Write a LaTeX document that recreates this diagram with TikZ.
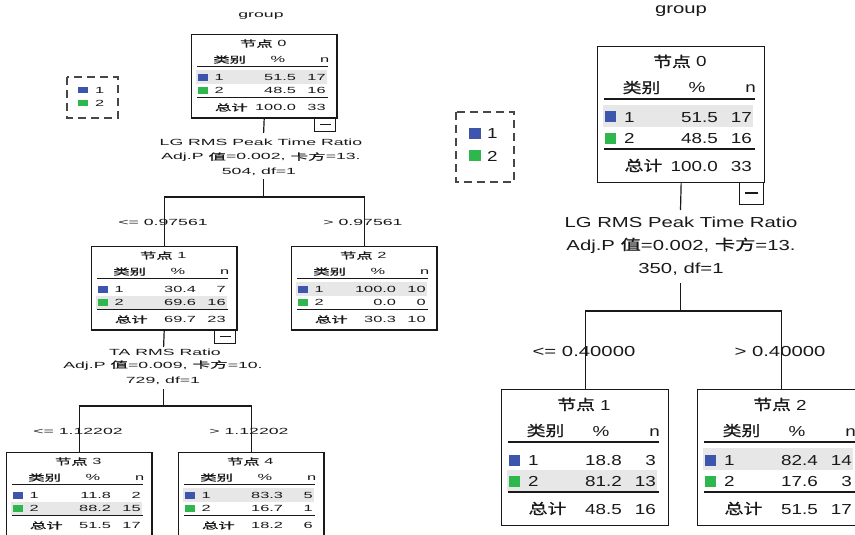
\documentclass[tikz,border=0pt]{standalone}
\usepackage{fontspec}
\setmainfont{Liberation Sans}
\newfontfamily\nf{Liberation Sans}[FakeStretch=1.3]
\newfontfamily\nfc{Noto Sans CJK SC}[FakeStretch=1.3,FakeBold=1]
\newfontfamily\lf{Liberation Sans}[FakeStretch=1.4]
\newfontfamily\lfc{Noto Sans CJK SC}[FakeStretch=1.4,FakeBold=1]
\definecolor{cone}{RGB}{61,85,172}
\definecolor{ctwo}{RGB}{45,183,77}
\definecolor{rowgray}{RGB}{231,231,231}
\definecolor{ink}{RGB}{25,25,25}
\newif\ifspssminus
\tikzset{
 lscale/.style={xscale=0.87,yscale=0.615,transform shape},
 shade row/.store in=\spssshade, shade row=1,
 with minus/.code={\spssminustrue},
 boxstyle/.style={draw=ink, line width=1.3pt, inner sep=0pt, minimum width=167pt, minimum height=136pt, anchor=north west},
 minusbox/.style={draw=ink, line width=1.1pt, inner sep=0pt, minimum width=24pt, minimum height=22pt, anchor=north east},
 nt/.style={font=\nf\fontsize{14.5}{17}\selectfont, text=ink, inner sep=0pt},
 lt/.style={font=\lf\fontsize{14.5}{17}\selectfont, text=ink, inner sep=0pt},
 rule/.style={draw=ink, line width=1.3pt},
 conn/.style={draw=ink, line width=1.2pt},
 legbox/.style={draw=ink!80, line width=1.4pt, dash pattern=on 8pt off 5pt},
}
% #1 name, #2 scope options, #3 title, #4 p1, #5 n1, #6 p2, #7 n2, #8 ptot, #9 ntot
\newcommand\spssnode[9]{%
 \spssminusfalse
 \begin{scope}[#2]
  \ifnum\spssshade=1
   \fill[rowgray] (6,59) rectangle (156,81);
  \else
   \fill[rowgray] (6,81) rectangle (156,102);
  \fi
  \node[boxstyle] (#1) at (0,0) {};
  \node[nt,anchor=base] (#1t) at (83,21) {{\nfc 节点} #3};
  \node[nt,anchor=base] (#1ha) at (44.5,47) {\nfc 类别};
  \node[nt,anchor=base] (#1hb) at (100,47) {\%};
  \node[nt,anchor=base east] (#1hc) at (159,47) {n};
  \draw[rule] (7,53) -- (158,53);
  \fill[cone] (8,65.5) rectangle (19,76.5);
  \node[nt,anchor=base west] (#1aa) at (27,76) {1};
  \node[nt,anchor=base east] (#1ab) at (121,76) {#4};
  \node[nt,anchor=base east] (#1ac) at (155,76) {#5};
  \fill[ctwo] (8,86.5) rectangle (19,97.5);
  \node[nt,anchor=base west] (#1ba) at (27,97) {2};
  \node[nt,anchor=base east] (#1bb) at (121,97) {#6};
  \node[nt,anchor=base east] (#1bc) at (155,97) {#7};
  \draw[rule] (7,103) -- (158,103);
  \node[nt,anchor=base] (#1ca) at (46.5,125) {\nfc 总计};
  \node[nt,anchor=base east] (#1cb) at (121,125) {#8};
  \node[nt,anchor=base east] (#1cc) at (155,125) {#9};
  \ifspssminus
   \node[minusbox] (#1m) at (167,136) {};
   \draw[line width=1.2pt,draw=ink] (148,147) -- (161,147);
  \fi
 \end{scope}}
% #1 name, #2 x,y (baseline), #3 scope options, #4 text
\newcommand\txt[4]{\begin{scope}[shift={(#2)},#3]\node[lt,anchor=base] (#1) at (0,0) {#4};\end{scope}}
\newcommand\legtxt[4]{\begin{scope}[shift={(#2)},#3]\node[nt,anchor=base west] (#1) at (0,0) {#4};\end{scope}}
\begin{document}
\begin{tikzpicture}[x=1pt,y=-1pt]
\useasboundingbox (0,0) rectangle (855,535);
\clip (0,0) rectangle (855,535);
\fill[white] (0,0) rectangle (855,535);

% ---------------- left tree ----------------
\txt{Lg}{261,17.5}{lscale}{group}
\draw[legbox] (67,77) rectangle (118,118);
\fill[cone] (78,87) rectangle (88,93.5);
\fill[ctwo] (78,100) rectangle (88,106.5);
\legtxt{Lk1}{95,93.5}{lscale}{1}
\legtxt{Lk2}{95,106.5}{lscale}{2}

\spssnode{L0}{shift={(191,34)},lscale,shade row=1,with minus}{0}{51.5}{17}{48.5}{16}{100.0}{33}
\spssnode{L1}{shift={(91,246)},lscale,shade row=2,with minus}{1}{30.4}{7}{69.6}{16}{69.7}{23}
\spssnode{L2}{shift={(291,246)},lscale,shade row=1}{2}{100.0}{10}{0.0}{0}{30.3}{10}
\spssnode{L3}{shift={(6,452)},lscale,shade row=2}{3}{11.8}{2}{88.2}{15}{51.5}{17}
\spssnode{L4}{shift={(178,452)},lscale,shade row=1}{4}{83.3}{5}{16.7}{1}{18.2}{6}

\txt{Ll1}{261,146}{lscale}{LG RMS Peak Time Ratio}
\txt{Ll2}{261,160}{lscale}{Adj.P {\lfc 值}=0.002, {\lfc 卡方}=13.}
\txt{Ll3}{259,174}{lscale}{504, df=1}
\txt{Lc1}{163,225}{lscale}{<= 0.97561}
\txt{Lc2}{363,225}{lscale}{> 0.97561}
\txt{Lm1}{165,355}{lscale}{TA RMS Ratio}
\txt{Lm2}{163,368}{lscale}{Adj.P {\lfc 值}=0.009, {\lfc 卡方}=10.}
\txt{Lm3}{163,383}{lscale}{729, df=1}
\txt{Lc3}{78,434}{lscale}{<= 1.12202}
\txt{Lc4}{249,434}{lscale}{> 1.12202}

\coordinate (La0) at (263.6,133);
\coordinate (Lb0) at (263.6,179);
\coordinate (Lh0) at (263.6,197);
\draw[conn] (L0.south) -- (La0);
\draw[conn] (Lb0) -- (Lh0);
\draw[conn] (L1.north) |- (Lh0) -| (L2.north);
\coordinate (La1) at (163.6,347);
\coordinate (Lb1) at (163.6,389);
\coordinate (Lh1) at (163.6,406);
\draw[conn] (L1.south) -- (La1);
\draw[conn] (Lb1) -- (Lh1);
\draw[conn] (L3.north) |- (Lh1) -| (L4.north);

% ---------------- right tree ----------------
\txt{Rg}{681,14}{}{group}
\draw[legbox] (456,112) rectangle (514,182);
\fill[cone] (469,128) rectangle (481,139);
\fill[ctwo] (469,150) rectangle (481,161);
\legtxt{Rk1}{487,139}{}{1}
\legtxt{Rk2}{487,161}{}{2}

\spssnode{R0}{shift={(597,46)},shade row=1,with minus}{0}{51.5}{17}{48.5}{16}{100.0}{33}
\spssnode{R1}{shift={(501,389)},shade row=2}{1}{18.8}{3}{81.2}{13}{48.5}{16}
\spssnode{R2}{shift={(697,389)},shade row=1}{2}{82.4}{14}{17.6}{3}{51.5}{17}

\txt{Rl1}{681,227}{}{LG RMS Peak Time Ratio}
\txt{Rl2}{681,250}{}{Adj.P {\lfc 值}=0.002, {\lfc 卡方}=13.}
\txt{Rl3}{681,273}{}{350, df=1}
\txt{Rc1}{584,356}{}{<= 0.40000}
\txt{Rc2}{780,356}{}{> 0.40000}

\coordinate (Ra0) at (680.5,210);
\coordinate (Rb0) at (680.5,283);
\coordinate (Rh0) at (680.5,311);
\draw[conn] (R0.south) -- (Ra0);
\draw[conn] (Rb0) -- (Rh0);
\draw[conn] (R1.north) |- (Rh0) -| (R2.north);
\end{tikzpicture}
\end{document}
